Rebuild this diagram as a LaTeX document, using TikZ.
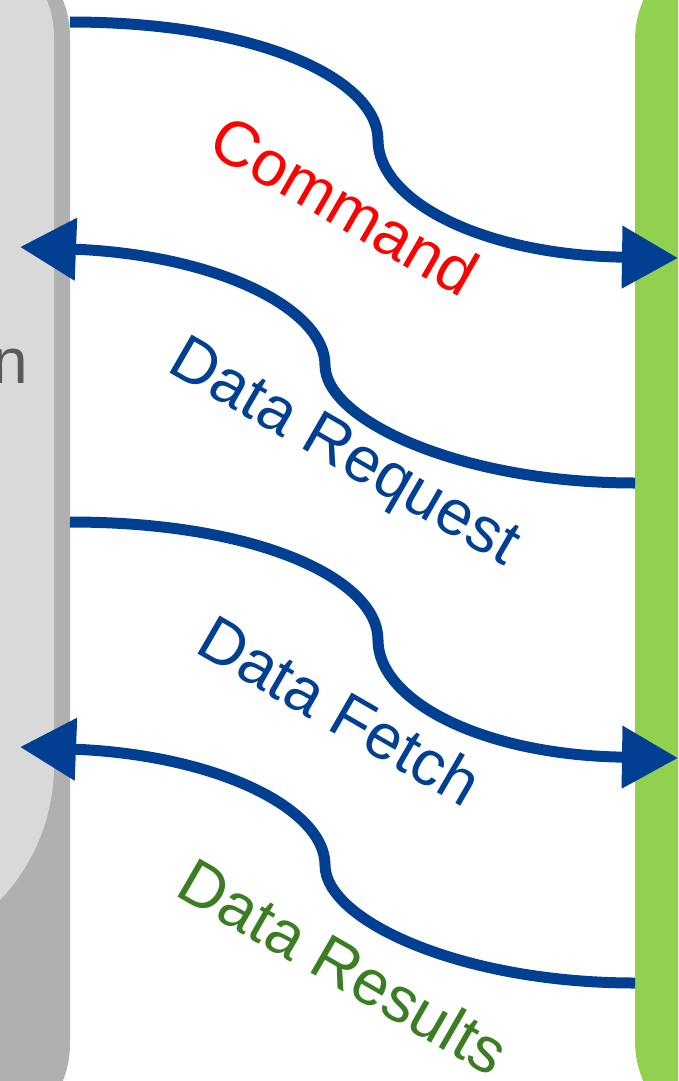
\documentclass[tikz,border=0pt]{standalone}
\usepackage{fontspec}
\setmainfont{Liberation Sans}
\usetikzlibrary{arrows.meta}
\definecolor{flowblue}{RGB}{0,63,145}
\definecolor{panelgray}{RGB}{217,217,217}
\definecolor{shadegray}{RGB}{176,176,176}
\definecolor{bargreen}{RGB}{146,208,80}
\definecolor{resultgreen}{RGB}{59,125,35}
\definecolor{labelgray}{RGB}{89,89,89}

\begin{document}
\begin{tikzpicture}[x=1pt,y=-1pt,>={Triangle[length=56pt,width=60pt]},
    flow/.style={draw=flowblue,line width=11pt},
    flow label/.style={font=\fontsize{64}{64}\selectfont,rotate=-30,inner sep=0pt}]
    \useasboundingbox (0,0) rectangle (678,1081);
    \clip (0,0) rectangle (678,1081);

    % left panel and right bar
    \fill[shadegray,rounded corners=100pt] (-300,-63) rectangle (70,1144);
    \fill[panelgray] (-300,-63) -- (-46,-63) arc[start angle=90,end angle=0,radius=100pt]
        -- (54,765) arc[start angle=0,end angle=-90,radius=196pt] -- (-300,961) -- cycle;
    \fill[bargreen,rounded corners=100pt] (635,-60) rectangle (1000,1141);
    \node[font=\fontsize{64}{64}\selectfont,text=labelgray,anchor=base east,inner sep=0pt] (appname) at (28,383) {n};

    % end points
    \coordinate (cmd-a) at (70,22);
    \coordinate (cmd-m) at (378,140);
    \coordinate (cmd-b) at (678,258);
    \coordinate (req-a) at (20,247);
    \coordinate (req-m) at (325,365);
    \coordinate (req-b) at (635,483);
    \coordinate (fetch-a) at (70,522);
    \coordinate (fetch-m) at (378,640);
    \coordinate (fetch-b) at (678,758);
    \coordinate (res-a) at (20,747);
    \coordinate (res-m) at (325,865);
    \coordinate (res-b) at (635,983);

    \draw[flow,->] (cmd-a) .. controls +(190,0) and +(0,-60) .. (cmd-m)
        .. controls +(0,60) and +(-198,-3) .. (cmd-b);
    \draw[flow,<-] (req-a) .. controls +(200,8) and +(0,-55) .. (req-m)
        .. controls +(0,55) and +(-175,0) .. (req-b);
    \draw[flow,->] (fetch-a) .. controls +(190,0) and +(0,-60) .. (fetch-m)
        .. controls +(0,60) and +(-198,-3) .. (fetch-b);
    \draw[flow,<-] (res-a) .. controls +(200,8) and +(0,-55) .. (res-m)
        .. controls +(0,55) and +(-175,0) .. (res-b);

    \node[flow label,text=red] (cmd) at (345,205) {Command};
    \node[flow label,text=flowblue] (req) at (343,455) {Data Request};
    \node[flow label,text=flowblue] (fetch) at (340,710) {Data Fetch};
    \node[flow label,text=resultgreen] (res) at (344,966) {Data Results};
\end{tikzpicture}
\end{document}
